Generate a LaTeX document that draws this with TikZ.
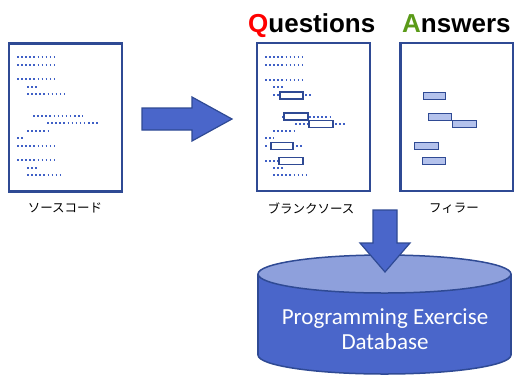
\documentclass[tikz,border=0pt]{standalone}
\usepackage{fontspec}
\setmainfont{Liberation Sans}
\newfontfamily\jpfont{Noto Sans CJK JP}
\newfontfamily\dbfont{Carlito}
\definecolor{edgeblue}{HTML}{2F4A94}
\definecolor{fillblue}{HTML}{4A66CA}
\definecolor{topblue}{HTML}{8EA0DC}
\definecolor{dotblue}{HTML}{3F60C6}
\definecolor{slotblue}{HTML}{B4C2EC}
\definecolor{agreen}{HTML}{5A9A18}
\tikzset{
  docbox/.style={draw=edgeblue,line width=2.4pt,fill=white,minimum width=113pt,minimum height=148pt,inner sep=0pt},
  codeline/.style={draw=dotblue,line width=1.5pt,dash pattern=on 1.5pt off 2.6pt},
  blankslot/.style={draw=edgeblue,line width=1.1pt,fill=white},
  fillslot/.style={draw=edgeblue,line width=1pt,fill=slotblue},
  jplabel/.style={font=\jpfont\fontsize{12.5}{14}\selectfont,inner sep=0pt},
  bigarrow/.style={draw=edgeblue,line width=1.2pt,fill=fillblue,line join=miter},
  titletext/.style={font=\bfseries\fontsize{26}{30}\selectfont,inner sep=0pt,anchor=base west},
  dbtext/.style={font=\dbfont\fontsize{23}{26}\selectfont,text=white,inner sep=0pt,anchor=base}
}
\begin{document}
\begin{tikzpicture}[x=1pt,y=-1pt]
\useasboundingbox (0,0) rectangle (514,376);
% titles
\node[titletext] (q) at (248,32) {\textcolor{red}{Q}uestions};
\node[titletext] (a) at (402,32) {\textcolor{agreen}{A}nswers};
% documents
\node[docbox] (src) at (65.5,117.5) {};
\node[docbox] (blank) at (313.5,117) {};
\node[docbox] (fill) at (457,117) {};
\node[jplabel] (srcl) at (65,208) {ソースコード};
\node[jplabel] (blankl) at (311,208.5) {ブランクソース};
\node[jplabel] (filll) at (454,208) {フィラー};
% source code lines
\foreach \xa/\xb/\yy in {17/56/57,17/56/65,17/56/79,27/37/87,27/66/94,33/83/116,47/98/123,27/51/131,17/23/138,17/56/146,17/56/160,27/37/168,27/61/175}
  \draw[codeline] (\xa,\yy) -- (\xb,\yy);
% blank source lines
\foreach \xa/\xb/\yy in {265/303/57,265/303/65,265/303/80,273/284/87,273/280/95,305/313/95,282/284/117,309/331/117,295/309/124,335/345/124,273/296/131,265/274/138,265/268/146,296/303/146,265/279/161,273/284/168,273/308/175}
  \draw[codeline] (\xa,\yy) -- (\xb,\yy);
\node[blankslot,minimum width=23pt,minimum height=7pt,inner sep=0pt] (b1) at (291.5,95.5) {};
\node[blankslot,minimum width=24pt,minimum height=7pt,inner sep=0pt] (b2) at (296,116.5) {};
\node[blankslot,minimum width=24pt,minimum height=6.5pt,inner sep=0pt] (b3) at (321,124) {};
\node[blankslot,minimum width=22pt,minimum height=6.5pt,inner sep=0pt] (b4) at (282,146) {};
\node[blankslot,minimum width=24pt,minimum height=6.5pt,inner sep=0pt] (b5) at (291,161) {};
% fillers
\node[fillslot,minimum width=22pt,minimum height=7pt,inner sep=0pt] (f1) at (434,95.5) {};
\node[fillslot,minimum width=23pt,minimum height=7pt,inner sep=0pt] (f2) at (439.5,116.5) {};
\node[fillslot,minimum width=24pt,minimum height=6.5pt,inner sep=0pt] (f3) at (464,124) {};
\node[fillslot,minimum width=24pt,minimum height=6.5pt,inner sep=0pt] (f4) at (426,146) {};
\node[fillslot,minimum width=23pt,minimum height=6.5pt,inner sep=0pt] (f5) at (433.5,161) {};
% right arrow
\draw[bigarrow] (142,108) -- (192,108) -- (192,97) -- (232,119) -- (192,141) -- (192,130) -- (142,130) -- cycle;
% cylinder
\coordinate (cyltop) at (384.5,274);
\coordinate (cylbot) at (384.5,355);
\draw[draw=edgeblue,line width=1.5pt,fill=fillblue] (cylbot) ellipse [x radius=126.5pt, y radius=19pt];
\fill[fillblue] (258,274) rectangle (511,355);
\draw[draw=edgeblue,line width=1.5pt] (258,274) -- (258,355) (511,274) -- (511,355);
\draw[draw=edgeblue,line width=1.5pt,fill=topblue] (cyltop) ellipse [x radius=126.5pt, y radius=19pt];
\node[dbtext] (db1) at (385,324) {Programming Exercise};
\node[dbtext] (db2) at (385,349) {Database};
% down arrow
\draw[bigarrow] (373,210) -- (397,210) -- (397,243) -- (410,243) -- (385,272) -- (360,243) -- (373,243) -- cycle;
\end{tikzpicture}
\end{document}
